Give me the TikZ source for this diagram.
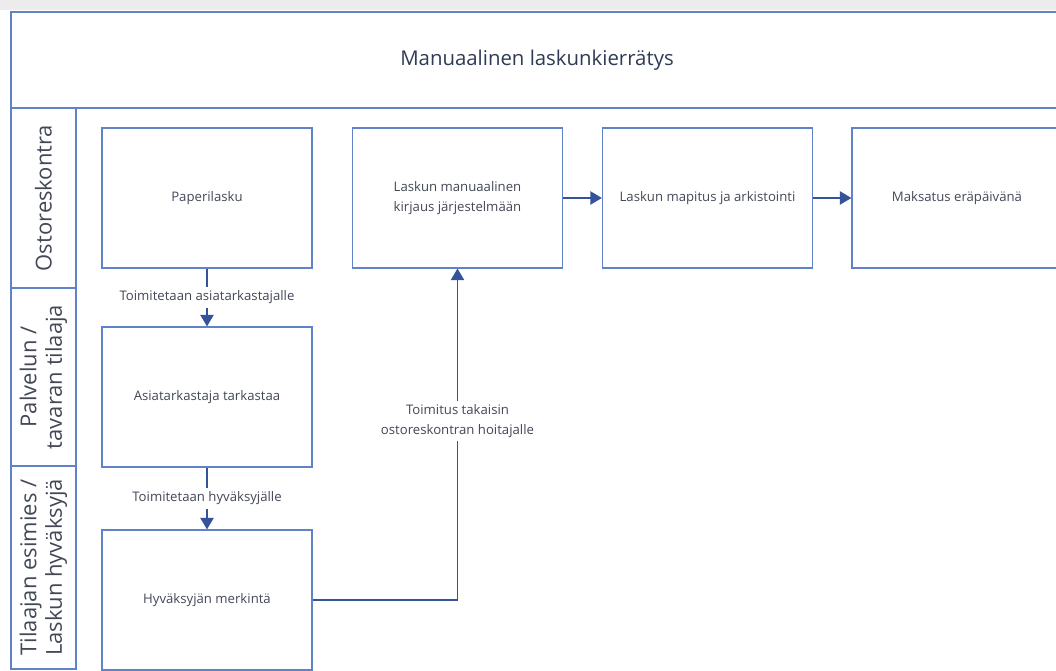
\documentclass[tikz,border=0pt]{standalone}
\usepackage{fontspec}
\setmainfont{Open Sans}
\usetikzlibrary{arrows.meta,positioning}
\definecolor{laneblue}{HTML}{5F82C9}
\definecolor{arrowblue}{HTML}{34539A}
\definecolor{txtgray}{HTML}{434856}
\definecolor{titlenavy}{HTML}{2F3A55}
\definecolor{topgray}{HTML}{ECECEC}
\tikzset{
  stepbox/.style={draw=laneblue,line width=0.7pt,minimum width=4.2cm,minimum height=2.8cm,
    align=center,text=txtgray,font=\fontsize{7.5}{11.5}\selectfont},
  lanebox/.style={draw=laneblue,line width=0.7pt,rotate=90,minimum height=1.3cm,
    align=center,text=txtgray,font=\fontsize{12.5}{14.5}\selectfont},
  flow/.style={draw=arrowblue,line width=0.85pt,-{Triangle[length=6.5pt,width=7.5pt]}},
  flowlabel/.style={fill=white,inner sep=2pt,align=center,text=txtgray,
    font=\fontsize{7.5}{11.5}\selectfont}
}
\begin{document}
\begin{tikzpicture}[x=0.02cm,y=-0.02cm]
        \useasboundingbox(0,0)rectangle(1056,671);
        \fill[topgray](0,0)rectangle(1056,10);
        \draw[laneblue,line width=0.7pt](1060,12)--(11,12)--(11,108)--(1060,108);
        \node[text=titlenavy,font=\fontsize{11.6}{13}\selectfont](title)at(537,60){Manuaalinen laskunkierrätys};

        \node[lanebox,minimum width=3.6cm](laneA)at(43.5,198){Ostoreskontra};
        \node[lanebox,minimum width=3.56cm](laneB)at(43.5,377){Palvelun /\\tavaran tilaaja};
        \node[lanebox,minimum width=4.06cm](laneC)at(43.5,567.5){Tilaajan esimies /\\Laskun hyväksyjä};

        \node[stepbox](paper)at(207,198){Paperilasku};
        \node[stepbox](check)at(207,397){Asiatarkastaja tarkastaa};
        \node[stepbox](approve)at(207,600){Hyväksyjän merkintä};
        \node[stepbox](entry)at(457.5,198){Laskun manuaalinen\\kirjaus järjestelmään};
        \node[stepbox](filing)at(707.5,198){Laskun mapitus ja arkistointi};
        \node[stepbox](payment)at(957,198){Maksatus eräpäivänä};

        \draw[flow](paper)--node[flowlabel]{Toimitetaan asiatarkastajalle}(check);
        \draw[flow](check)--node[flowlabel]{Toimitetaan hyväksyjälle}(approve);
        \draw[flow](approve.east)-|node[flowlabel,pos=0.77]{Toimitus takaisin\\ostoreskontran hoitajalle}(entry.south);
        \draw[flow](entry)--(filing);
        \draw[flow](filing)--(payment);
    \end{tikzpicture}
\end{document}
